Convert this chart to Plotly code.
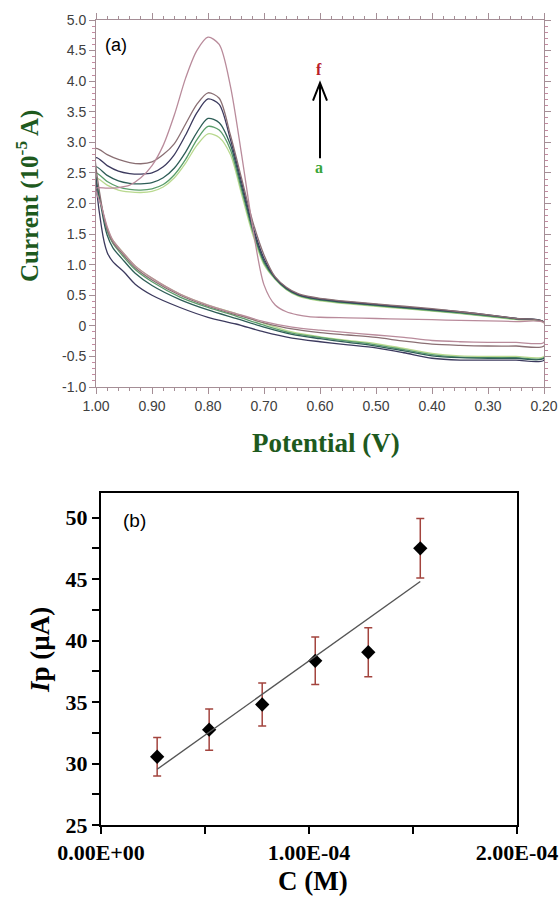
import numpy as np
import plotly.graph_objects as go

# ---------------- (a) cyclic voltammograms, curves a -> f ----------------
# forward sweep 1.00 -> 0.20 V
potential_fwd = [1.00, 0.98, 0.96, 0.94, 0.92, 0.90, 0.88, 0.86, 0.84, 0.82,
                 0.80, 0.78, 0.76, 0.74, 0.72, 0.70, 0.68, 0.66, 0.64, 0.62,
                 0.60, 0.55, 0.50, 0.45, 0.40, 0.35, 0.30, 0.25, 0.20]
# reverse sweep 0.20 -> 1.00 V
potential_rev = [0.20, 0.25, 0.30, 0.35, 0.40, 0.45, 0.50, 0.55, 0.60, 0.65,
                 0.70, 0.75, 0.80, 0.85, 0.90, 0.93, 0.95, 0.97, 0.98, 0.99, 1.00]

# currents in units of 1e-5 A
current_fwd_a = [2.42, 2.30, 2.22, 2.19, 2.18, 2.20, 2.27, 2.42, 2.66, 2.95,
                 3.14, 3.08, 2.80, 2.15, 1.49, 1.00, 0.76, 0.59, 0.49, 0.44,
                 0.41, 0.36, 0.32, 0.28, 0.24, 0.20, 0.15, 0.10, 0.05]
current_fwd_b = [2.50, 2.36, 2.27, 2.23, 2.22, 2.24, 2.31, 2.47, 2.72, 3.04,
                 3.26, 3.20, 2.88, 2.22, 1.54, 1.03, 0.77, 0.60, 0.50, 0.45,
                 0.42, 0.37, 0.33, 0.29, 0.25, 0.21, 0.16, 0.11, 0.06]
current_fwd_c = [2.60, 2.46, 2.37, 2.33, 2.32, 2.34, 2.42, 2.58, 2.84, 3.16,
                 3.39, 3.32, 2.96, 2.28, 1.58, 1.06, 0.78, 0.61, 0.51, 0.46,
                 0.43, 0.38, 0.34, 0.30, 0.26, 0.22, 0.17, 0.12, 0.06]
current_fwd_d = [2.75, 2.62, 2.53, 2.49, 2.48, 2.50, 2.60, 2.80, 3.12, 3.48,
                 3.71, 3.62, 3.05, 2.35, 1.63, 1.10, 0.79, 0.62, 0.52, 0.47,
                 0.44, 0.39, 0.35, 0.31, 0.27, 0.23, 0.18, 0.12, 0.06]
current_fwd_e = [2.90, 2.80, 2.72, 2.67, 2.65, 2.68, 2.80, 2.98, 3.30, 3.62,
                 3.81, 3.72, 3.12, 2.41, 1.70, 1.16, 0.80, 0.63, 0.53, 0.48,
                 0.45, 0.40, 0.36, 0.32, 0.28, 0.23, 0.18, 0.12, 0.06]
current_fwd_f = [2.25, 2.25, 2.26, 2.30, 2.42, 2.62, 2.95, 3.45, 4.05, 4.50,
                 4.72, 4.60, 3.92, 2.80, 1.60, 0.67, 0.34, 0.23, 0.18, 0.15,
                 0.14, 0.13, 0.12, 0.11, 0.10, 0.09, 0.08, 0.07, 0.05]

current_rev_a = [-0.50, -0.50, -0.50, -0.49, -0.45, -0.37, -0.29, -0.24, -0.18, -0.10,
                 0.04, 0.20, 0.34, 0.52, 0.78, 0.98, 1.18, 1.40, 1.60, 1.95, 2.42]
current_rev_b = [-0.52, -0.52, -0.52, -0.51, -0.47, -0.39, -0.31, -0.25, -0.19, -0.12,
                 0.01, 0.16, 0.30, 0.47, 0.72, 0.92, 1.12, 1.35, 1.55, 1.95, 2.50]
current_rev_c = [-0.53, -0.53, -0.53, -0.52, -0.49, -0.41, -0.33, -0.27, -0.21, -0.14,
                 -0.02, 0.12, 0.26, 0.43, 0.66, 0.86, 1.06, 1.28, 1.48, 1.90, 2.60]
current_rev_d = [-0.56, -0.56, -0.56, -0.56, -0.53, -0.44, -0.36, -0.31, -0.26, -0.20,
                 -0.10, 0.03, 0.14, 0.30, 0.50, 0.68, 0.88, 1.05, 1.20, 1.60, 2.75]
current_rev_e = [-0.33, -0.33, -0.33, -0.32, -0.30, -0.25, -0.19, -0.15, -0.11, -0.05,
                 0.05, 0.18, 0.32, 0.50, 0.75, 0.95, 1.15, 1.37, 1.57, 1.98, 2.90]
current_rev_f = [-0.27, -0.27, -0.27, -0.26, -0.24, -0.19, -0.15, -0.11, -0.07, -0.02,
                 0.07, 0.20, 0.34, 0.52, 0.78, 0.98, 1.18, 1.40, 1.62, 1.95, 2.25]

curve_names = ["a", "b", "c", "d", "e", "f"]
current_fwd = [current_fwd_a, current_fwd_b, current_fwd_c,
               current_fwd_d, current_fwd_e, current_fwd_f]
current_rev = [current_rev_a, current_rev_b, current_rev_c,
               current_rev_d, current_rev_e, current_rev_f]
curve_colors = ["#b9d98f", "#5a9e6a", "#2e5e57", "#3c3a5e", "#8a6f73", "#b98b9b"]

cv_xticks = [1.00, 0.90, 0.80, 0.70, 0.60, 0.50, 0.40, 0.30, 0.20]
cv_xticktext = ["1.00", "0.90", "0.80", "0.70", "0.60", "0.50", "0.40", "0.30", "0.20"]
cv_yticks = [5.0, 4.5, 4.0, 3.5, 3.0, 2.5, 2.0, 1.5, 1.0, 0.5, 0.0, -0.5, -1.0]
cv_yticktext = ["5.0", "4.5", "4.0", "3.5", "3.0", "2.5", "2.0", "1.5", "1.0",
                "0.5", "0", "-0.5", "-1.0"]

# ---------------- (b) calibration: peak current vs concentration ----------------
conc_M = [2.70e-5, 5.20e-5, 7.75e-5, 1.03e-4, 1.285e-4, 1.535e-4]
ip_uA = [30.55, 32.75, 34.80, 38.35, 39.05, 47.50]
ip_err = [1.57, 1.68, 1.75, 1.93, 2.00, 2.42]

cal_xticks = [0.0, 1e-4, 2e-4]
cal_xticktext = ["0.00E+00", "1.00E-04", "2.00E-04"]
cal_xminor = [5e-5, 1.5e-4]
cal_yticks = [25, 30, 35, 40, 45, 50]
cal_yticktext = ["25", "30", "35", "40", "45", "50"]
cal_yminor = [27.5, 32.5, 37.5, 42.5, 47.5]

W, H = 560, 899
SERIF = "Liberation Serif, Times New Roman, serif"
SANS = "Liberation Sans, Arial, sans-serif"
GREEN_TITLE = "#1e5a1e"
FRAME = "#a58e96"

fig = go.Figure()

for name, fwd, rev, col in zip(curve_names, current_fwd, current_rev, curve_colors):
    fig.add_trace(go.Scatter(
        x=potential_fwd + potential_rev,
        y=fwd + rev,
        mode="lines", name=name,
        line=dict(color=col, width=1.3, shape="spline", smoothing=0.8),
        xaxis="x", yaxis="y", showlegend=False,
    ))

# calibration points with error bars
fig.add_trace(go.Scatter(
    x=conc_M, y=ip_uA, mode="markers",
    marker=dict(symbol="diamond", size=11, color="black"),
    error_y=dict(type="data", array=ip_err, color="#a3443e", thickness=1.5, width=4),
    xaxis="x2", yaxis="y2", showlegend=False,
))

# least-squares line through the calibration points
slope, intercept = np.polyfit(conc_M, ip_uA, 1)
fit_x = [conc_M[0], conc_M[-1]]
fit_y = [slope * v + intercept for v in fit_x]
fig.add_trace(go.Scatter(
    x=fit_x, y=fit_y, mode="lines",
    line=dict(color="#555555", width=1.4),
    xaxis="x2", yaxis="y2", showlegend=False,
))


def px_x(p):
    return p / W


def px_y(p):
    return 1 - p / H


cv_axis_common = dict(
    ticks="outside", ticklen=6, tickwidth=1, tickcolor=FRAME,
    showline=True, linecolor=FRAME, linewidth=1, mirror="allticks",
    showgrid=False, zeroline=False, automargin=False,
    tickfont=dict(family=SANS, size=14, color="#404040"),
)
cal_axis_common = dict(
    ticks="outside", ticklen=7, tickwidth=2, tickcolor="black",
    showline=True, linecolor="black", linewidth=2, mirror=True,
    showgrid=False, zeroline=False, automargin=False,
    tickfont=dict(family=SERIF, size=22, color="black", weight="bold"),
)

fig.update_layout(
    width=W, height=H,
    margin=dict(l=0, r=0, t=0, b=0, autoexpand=False),
    paper_bgcolor="white", plot_bgcolor="white",
    xaxis=dict(
        domain=[px_x(96), px_x(544)], range=[1.0, 0.2], anchor="y",
        tickvals=cv_xticks, ticktext=cv_xticktext,
        minor=dict(dtick=0.02, ticks="outside", ticklen=3, tickcolor=FRAME),
        **cv_axis_common,
    ),
    yaxis=dict(
        domain=[px_y(387), px_y(20)], range=[-1.0, 5.0], anchor="x",
        tickvals=cv_yticks, ticktext=cv_yticktext,
        minor=dict(dtick=0.1, ticks="outside", ticklen=3, tickcolor="#c48aa0"),
        **cv_axis_common,
    ),
    xaxis2=dict(
        domain=[px_x(101), px_x(517)], range=[0, 2e-4], anchor="y2",
        tickvals=cal_xticks, ticktext=cal_xticktext,
        minor=dict(tickvals=cal_xminor, ticks="outside", ticklen=7, tickwidth=2,
                   tickcolor="black"),
        **cal_axis_common,
    ),
    yaxis2=dict(
        domain=[px_y(825), px_y(493)], range=[25, 52], anchor="x2",
        tickvals=cal_yticks, ticktext=cal_yticktext,
        minor=dict(tickvals=cal_yminor, ticks="outside", ticklen=7, tickwidth=2,
                   tickcolor="black"),
        **cal_axis_common,
    ),
)

# arrow a -> f
arrow_v = 0.60
fig.add_shape(type="line", xref="x", yref="y", x0=arrow_v, x1=arrow_v, y0=2.74, y1=3.97,
              line=dict(color="black", width=2))
fig.add_shape(type="path", xref="x", yref="y",
              path=f"M {arrow_v + 0.0125},3.68 L {arrow_v},3.97 L {arrow_v - 0.0125},3.68",
              line=dict(color="black", width=2))

annotations = [
    dict(x=px_x(116), y=px_y(45), text="(a)", font=dict(family=SANS, size=18, color="black")),
    dict(x=px_x(319), y=px_y(70), text="<b>f</b>", font=dict(family=SERIF, size=16, color="#b8202a")),
    dict(x=px_x(319), y=px_y(167), text="<b>a</b>", font=dict(family=SERIF, size=16, color="#3aa53a")),
    dict(x=px_x(27), y=px_y(196), text="<b>Current (10<sup>-5</sup> A)</b>", textangle=-90,
         font=dict(family=SERIF, size=25, color=GREEN_TITLE)),
    dict(x=px_x(326), y=px_y(443), text="<b>Potential (V)</b>",
         font=dict(family=SERIF, size=27, color=GREEN_TITLE)),
    dict(x=px_x(134), y=px_y(520), text="(b)", font=dict(family=SANS, size=19, color="black")),
    dict(x=px_x(40), y=px_y(650), text="<b><i>I</i>p (µA)</b>", textangle=-90,
         font=dict(family=SERIF, size=27, color="black")),
    dict(x=px_x(313), y=px_y(881), text="<b>C (M)</b>",
         font=dict(family=SERIF, size=27, color="black")),
]
for a in annotations:
    a.update(xref="paper", yref="paper", showarrow=False, xanchor="center", yanchor="middle")
    fig.add_annotation(**a)

fig.write_html("out.html")
